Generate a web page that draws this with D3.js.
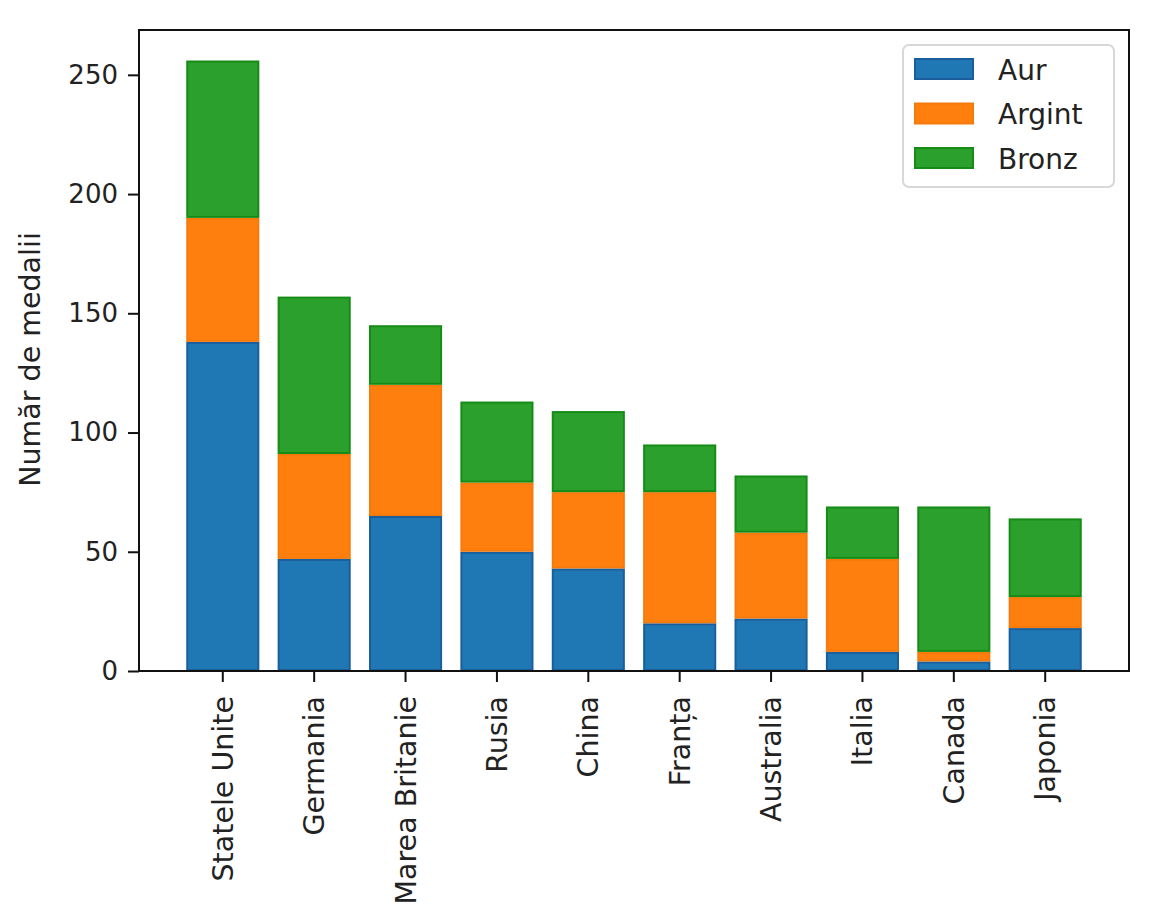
<!DOCTYPE html>
<html>
<head>
<meta charset="utf-8">
<script src="https://cdn.jsdelivr.net/npm/d3@7"></script>
<style>
  body { margin: 0; background: #fff; }
  text { font-family: "DejaVu Sans", sans-serif; fill: #222; }
</style>
</head>
<body>
<div id="plot"></div>
<script>
const countries = ['Statele Unite', 'Germania', 'Marea Britanie', 'Rusia', 'China',
    'Franța', 'Australia', 'Italia', 'Canada', 'Japonia'];
const aur = [138, 47, 65, 50, 43, 20, 22, 8, 4, 18];
const argint = [52, 44, 55, 29, 32, 55, 36, 39, 4, 13];
const bronz = [66, 66, 25, 34, 34, 20, 24, 22, 61, 33];
const yTicks = [0, 50, 100, 150, 200, 250];

const series = [
    { name: 'Aur', values: aur, fill: '#1f77b4', stroke: '#1a5f9c' },
    { name: 'Argint', values: argint, fill: '#ff7f0e', stroke: '#f57a0c' },
    { name: 'Bronz', values: bronz, fill: '#2ca02c', stroke: '#168c16' }
];

const W = 1157, H = 912;
const margin = { top: 30, right: 28, bottom: 241, left: 139 },
    width = W - margin.left - margin.right,
    height = H - margin.top - margin.bottom;

const svg = d3.select('#plot').append('svg')
    .attr('width', W)
    .attr('height', H);

const g = svg.append('g')
    .attr('transform', 'translate(' + margin.left + ',' + margin.top + ')');

const x = d3.scaleBand()
    .domain(countries)
    .range([0, width])
    .paddingInner(0.2)
    .paddingOuter(0.517);

const y = d3.scaleLinear()
    .domain([0, 268.8])
    .range([height, 0]);

// stack the three series
const rows = countries.map((c, i) => {
    const r = { country: c };
    series.forEach(s => r[s.name] = s.values[i]);
    return r;
});
const stacked = d3.stack().keys(series.map(s => s.name))(rows);

stacked.forEach((layer, k) => {
    g.append('g')
        .selectAll('rect')
        .data(layer)
        .join('rect')
        .attr('x', d => x(d.data.country) + 1)
        .attr('width', x.bandwidth() - 2)
        .attr('y', d => y(d[1]) + 1)
        .attr('height', d => Math.max(0, y(d[0]) - y(d[1]) - 2))
        .attr('fill', series[k].fill)
        .attr('stroke', series[k].stroke)
        .attr('stroke-width', 2);
});

// axes
const yAxis = g.append('g')
    .call(d3.axisLeft(y).tickValues(yTicks).tickSize(11).tickPadding(10));
const xAxis = g.append('g')
    .attr('transform', 'translate(0,' + height + ')')
    .call(d3.axisBottom(x).tickSize(11).tickPadding(10));

[xAxis, yAxis].forEach(a => {
    a.select('.domain').remove();
    a.selectAll('line').attr('stroke', '#111').attr('stroke-width', 2);
    a.selectAll('text').style('font-size', '26px').attr('fill', '#222');
});

xAxis.selectAll('text')
    .style('font-size', '28.5px')
    .attr('transform', 'rotate(-90)')
    .attr('text-anchor', 'end')
    .attr('x', -25)
    .attr('y', 0)
    .attr('dy', '0.35em');

// frame
g.append('rect')
    .attr('width', width)
    .attr('height', height)
    .attr('fill', 'none')
    .attr('stroke', '#111')
    .attr('stroke-width', 2);

// y label
svg.append('text')
    .attr('transform', 'translate(40,' + (margin.top + height / 2 + 9) + ') rotate(-90)')
    .attr('text-anchor', 'middle')
    .style('font-size', '28.5px')
    .text('Număr de medalii');

// legend
const leg = g.append('g').attr('transform', 'translate(' + (903 - margin.left) + ',' + (45 - margin.top) + ')');
leg.append('rect')
    .attr('width', 211)
    .attr('height', 142)
    .attr('rx', 6)
    .attr('fill', '#fff')
    .attr('stroke', '#d8d8d8')
    .attr('stroke-width', 2);

series.forEach((s, i) => {
    const row = leg.append('g').attr('transform', 'translate(12,' + (14 + i * 44.5) + ')');
    row.append('rect')
        .attr('width', 58)
        .attr('height', 20)
        .attr('fill', s.fill)
        .attr('stroke', s.stroke)
        .attr('stroke-width', 2);
    row.append('text')
        .attr('x', 83)
        .attr('y', 11)
        .attr('dy', '0.35em')
        .style('font-size', '28px')
        .text(s.name);
});
</script>
</body>
</html>
